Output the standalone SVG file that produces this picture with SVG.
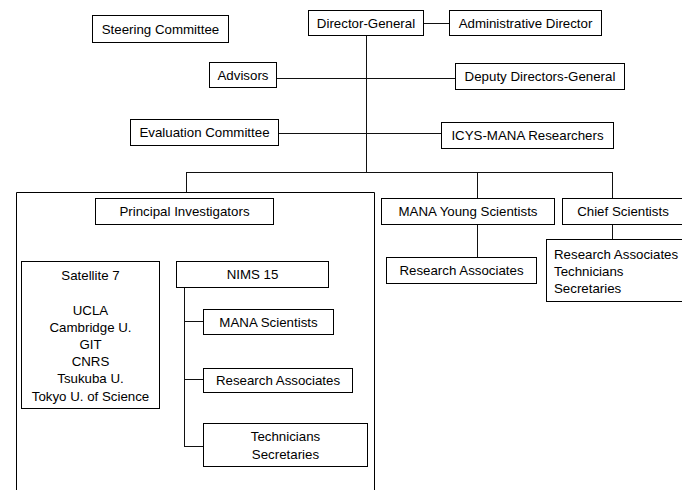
<svg xmlns="http://www.w3.org/2000/svg" width="682" height="490" viewBox="0 0 682 490">
<style>
  rect, .frame { fill: #fff; stroke: #000; stroke-width: 1; }
  .frame { fill: none; }
  text { font-family: "Liberation Sans", Arial, sans-serif; font-size: 13.3px; fill: #000; text-anchor: middle; }
  .left { text-anchor: start; }
  #connectors line { stroke: #111; stroke-width: 1; }
</style>
<rect x="0" y="0" width="682" height="490" style="stroke:none;fill:#fff"/>
<g id="connectors">
  <line x1="423" y1="23.5" x2="449" y2="23.5"/>
  <line x1="366.5" y1="35" x2="366.5" y2="172.5"/>
  <line x1="276" y1="78.5" x2="455" y2="78.5"/>
  <line x1="278" y1="133.5" x2="441" y2="133.5"/>
  <line x1="186" y1="172.5" x2="612.5" y2="172.5"/>
  <line x1="186.5" y1="172" x2="186.5" y2="192.5"/>
  <line x1="477.5" y1="172" x2="477.5" y2="198.5"/>
  <line x1="612.5" y1="172" x2="612.5" y2="198.5"/>
  <line x1="477.5" y1="224" x2="477.5" y2="257.5"/>
  <line x1="612.5" y1="224" x2="612.5" y2="239.5"/>
  <line x1="184.5" y1="287" x2="184.5" y2="446.5"/>
  <line x1="184" y1="321.5" x2="203" y2="321.5"/>
  <line x1="184" y1="379.5" x2="203" y2="379.5"/>
  <line x1="184" y1="446.5" x2="203" y2="446.5"/>
  <line x1="618.5" y1="280" x2="618.5" y2="293"/>
</g>
<g id="pi-frame"><path class="frame" d="M16.5 490 V192.5 H374.5 V490"/></g>
<g id="steering"><rect x="92.5" y="15.5" width="136" height="27"/><text x="160.5" y="33.5">Steering Committee</text></g>
<g id="director-general"><rect x="308.5" y="10.5" width="115" height="25"/><text x="366" y="27.5">Director-General</text></g>
<g id="admin-director"><rect x="449.5" y="10.5" width="152" height="25"/><text x="525.5" y="27.5">Administrative Director</text></g>
<g id="advisors"><rect x="209.5" y="62.5" width="67" height="25"/><text x="243" y="79.5">Advisors</text></g>
<g id="deputy"><rect x="455.5" y="63.5" width="169" height="26"/><text x="540" y="81">Deputy Directors-General</text></g>
<g id="evaluation"><rect x="130.5" y="119.5" width="148" height="26"/><text x="204.5" y="137">Evaluation Committee</text></g>
<g id="icys"><rect x="441.5" y="122.5" width="172" height="26"/><text x="527.5" y="140">ICYS-MANA Researchers</text></g>
<g id="principal-investigators"><rect x="95.5" y="198.5" width="178" height="26"/><text x="184.5" y="216">Principal Investigators</text></g>
<g id="mana-young"><rect x="381.5" y="198.5" width="173" height="26"/><text x="468" y="216">MANA Young Scientists</text></g>
<g id="chief"><rect x="562.5" y="198.5" width="130" height="26"/><text x="623" y="216">Chief Scientists</text></g>
<g id="ra-young"><rect x="386.5" y="257.5" width="150" height="26"/><text x="461.5" y="275">Research Associates</text></g>
<g id="chief-staff"><rect x="546.5" y="239.5" width="145" height="62"/>
  <text class="left" x="554" y="259">Research Associates</text>
  <text class="left" x="554" y="276">Technicians</text>
  <text class="left" x="554" y="293">Secretaries</text></g>
<g id="satellite"><rect x="21.5" y="261.5" width="138" height="147"/>
  <text x="90.5" y="280">Satellite 7</text>
  <text x="90.5" y="315">UCLA</text>
  <text x="90.5" y="332">Cambridge U.</text>
  <text x="90.5" y="349">GIT</text>
  <text x="90.5" y="366">CNRS</text>
  <text x="90.5" y="383">Tsukuba U.</text>
  <text x="90.5" y="400.5">Tokyo U. of Science</text></g>
<g id="nims"><rect x="176.5" y="261.5" width="152" height="26"/><text x="252.5" y="279">NIMS 15</text></g>
<g id="mana-scientists"><rect x="203.5" y="309.5" width="130" height="25"/><text x="268.5" y="326.5">MANA Scientists</text></g>
<g id="research-associates"><rect x="203.5" y="368.5" width="149" height="24"/><text x="278" y="385">Research Associates</text></g>
<g id="tech-sec"><rect x="203.5" y="423.5" width="164" height="43"/>
  <text x="285.5" y="441">Technicians</text>
  <text x="285.5" y="459">Secretaries</text></g>
</svg>
